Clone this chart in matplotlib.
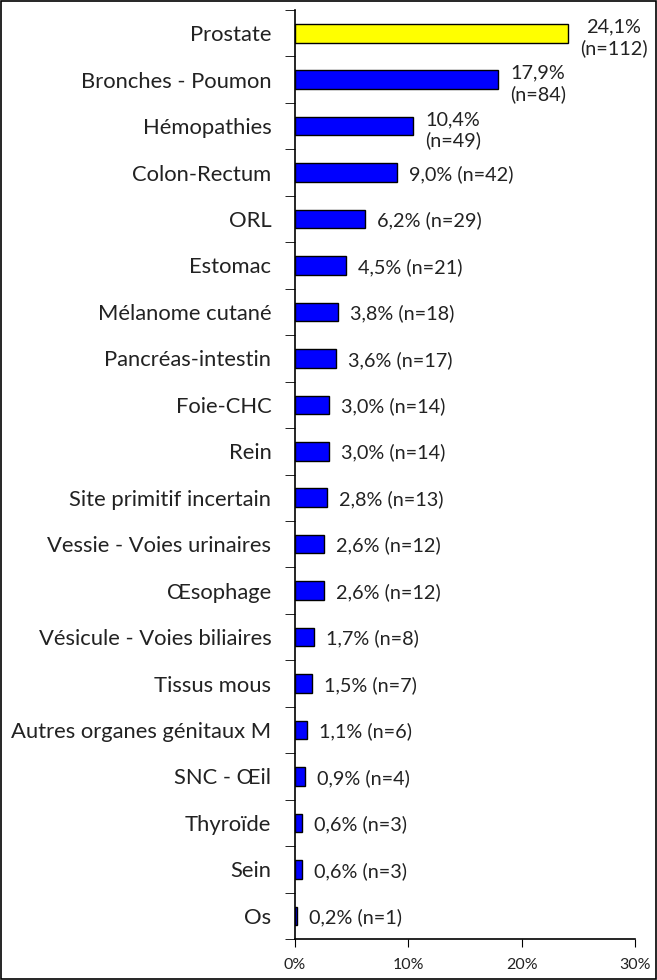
import numpy as np
import matplotlib
matplotlib.use("Agg")
import matplotlib.pyplot as plt
from matplotlib.patches import Rectangle

plt.rcParams["font.family"] = ["Lato", "DejaVu Sans"]

categories = ["Prostate", "Bronches - Poumon", "Hémopathies", "Colon-Rectum", "ORL",
              "Estomac", "Mélanome cutané", "Pancréas-intestin", "Foie-CHC", "Rein",
              "Site primitif incertain", "Vessie - Voies urinaires", "Œsophage",
              "Vésicule - Voies biliaires", "Tissus mous", "Autres organes génitaux M",
              "SNC - Œil", "Thyroïde", "Sein", "Os"]
pct = [24.1, 17.9, 10.4, 9.0, 6.2, 4.5, 3.8, 3.6, 3.0, 3.0,
       2.8, 2.6, 2.6, 1.7, 1.5, 1.1, 0.9, 0.6, 0.6, 0.2]
counts = [112, 84, 49, 42, 29, 21, 18, 17, 14, 14,
          13, 12, 12, 8, 7, 6, 4, 3, 3, 1]
xticks = [0, 10, 20, 30]

fig = plt.figure(figsize=(6.57, 9.8), dpi=100)
ax = fig.add_axes([0.449, 0.0418, 0.5175, 0.948])

y = np.arange(len(categories))
colors = ["#FFFF00"] + ["#0000FF"] * (len(categories) - 1)
ax.barh(y, pct, height=0.4, color=colors, edgecolor="black", linewidth=1)

# étiquettes de valeurs (2 lignes pour les 3 premières)
for i, (p, n) in enumerate(zip(pct, counts)):
    txt = f"{p:.1f}%".replace(".", ",")
    if i < 3:
        lab = f"{txt}\n(n={n})"
        dy = -3
    else:
        lab = f"{txt} (n={n})"
        dy = -1
    ax.annotate(lab, (p, i), xytext=(8.5, dy), textcoords="offset points",
                ha="left", va="center", multialignment="center",
                fontsize=14.3, linespacing=1.25, color="#222222")

ax.set_ylim(len(categories) - 0.5, -0.5)
ax.set_xlim(0, 30)
ax.set_yticks(y)
ax.set_yticklabels(categories, fontsize=15.8, color="#222222")
ax.set_yticks(np.arange(-0.5, len(categories), 1), minor=True)
ax.tick_params(axis="y", which="major", length=0, pad=17)
ax.tick_params(axis="y", which="minor", length=7, direction="out")
ax.set_xticks(xticks)
ax.set_xticklabels([f"{t}%" for t in xticks], fontsize=11.5, color="#222222")
ax.tick_params(axis="x", length=6, direction="out", pad=8)

for s in ["top", "right"]:
    ax.spines[s].set_visible(False)
ax.spines["left"].set_linewidth(1.2)
ax.spines["bottom"].set_linewidth(1.2)

fig.patches.append(Rectangle((0.002, 0.001), 0.996, 0.998, transform=fig.transFigure,
                             fill=False, edgecolor="black", linewidth=1.2))

fig.savefig("out.png", dpi=100)
